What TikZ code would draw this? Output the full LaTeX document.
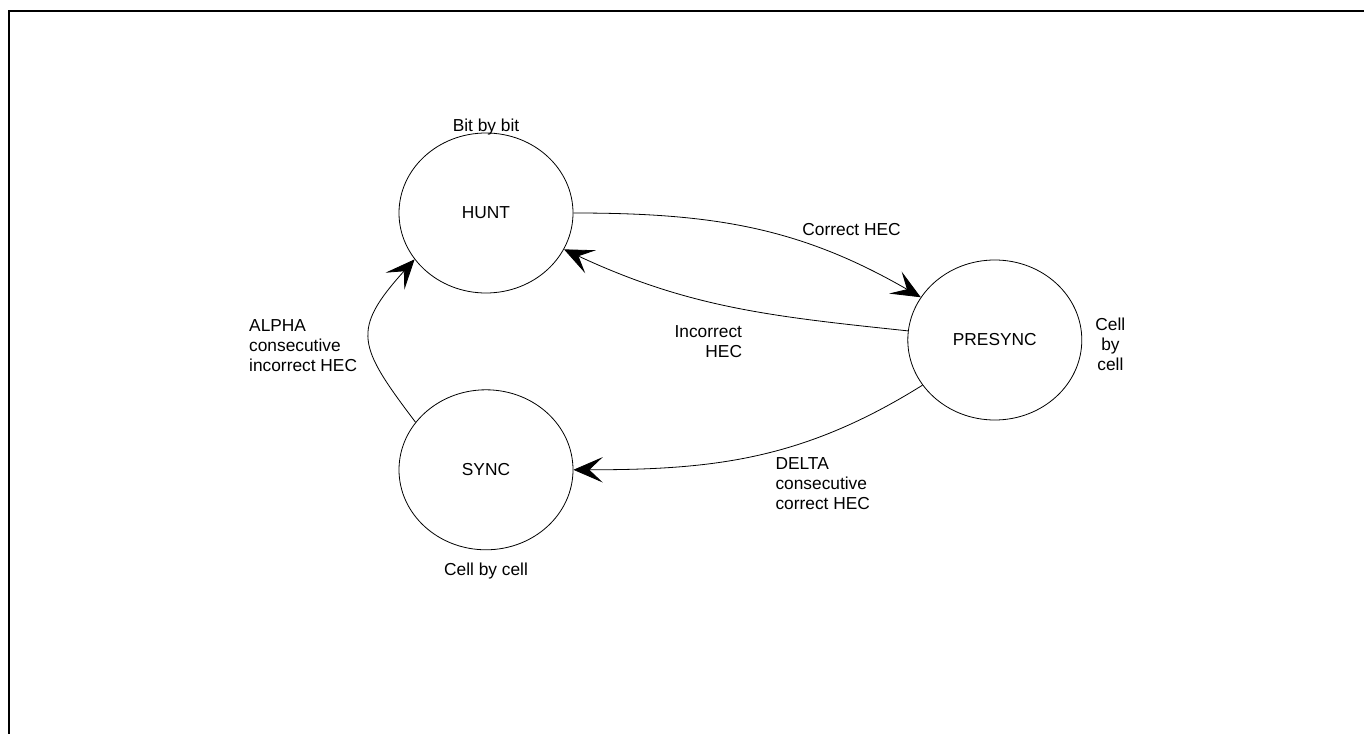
\documentclass[tikz,border=0pt]{standalone}
\usepackage{fontspec}
\setmainfont{Liberation Sans}
\usepackage{tikz}
\tikzstyle{state}=[draw, ellipse, line width=0.6pt, minimum width=130.5pt, minimum height=120pt, inner sep=0pt]
\tikzstyle{lbl}=[inner sep=0pt]
\tikzstyle{arrow}=[line width=0.6pt,-{Stealth[length=22pt,width=19pt,inset=10pt]}]
\usetikzlibrary{shapes.geometric,arrows.meta,positioning}

\begin{document}
\begin{tikzpicture}[x=0.75pt,y=-0.75pt,font=\fontsize{13}{15}\selectfont]
\useasboundingbox (0,0) rectangle (1364,734);
\draw[line width=1.5pt] (9,734) -- (9,11) -- (1364,11);

\node (hunt) [state] at (486,213) {HUNT};
\node (sync) [state,below=72pt of hunt] {SYNC};
\node (presync) [state,right=250.5pt of hunt,yshift=-95.25pt] {PRESYNC};

\node (bit) [lbl,anchor=base,yshift=1pt] at (hunt.north) {Bit by bit};
\node (cell1) [lbl,below=9pt of sync] {Cell by cell};
\node (cell2) [lbl,right=9.75pt of presync,yshift=-3pt,align=center] {Cell\\by\\cell};

\draw[arrow] (hunt) to[out=0,in=150] node[lbl,pos=.8,above=19pt]{Correct HEC} (presync);
\draw[arrow] (presync) to[out=174,in=-25] node[lbl,pos=.45,anchor=north east,align=right,shift={(-5,15)}]{Incorrect\\HEC} (hunt);
\draw[arrow] (presync) to[out=212,in=0] node[lbl,pos=.42,anchor=north west,align=left,shift={(-7,8)}]{DELTA\\consecutive\\correct HEC} (sync);
\draw[arrow] (sync.146) to[out=127,in=228,looseness=1.5] node[lbl,pos=.5,anchor=east,align=left,shift={(-12,7)}]{ALPHA\\consecutive\\incorrect HEC} (hunt.213);
\end{tikzpicture}
\end{document}
